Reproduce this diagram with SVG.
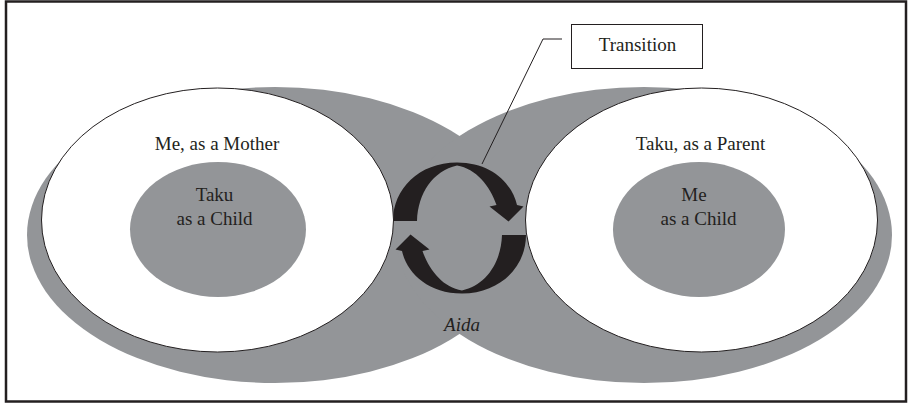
<svg xmlns="http://www.w3.org/2000/svg" width="909" height="403" viewBox="0 0 909 403">
<defs>
<style>
.lobe{fill:#939598;stroke:none}
.self{fill:#ffffff;stroke:#231f20;stroke-width:1}
.inner{fill:#939598;stroke:none}
.t{font-family:'Liberation Serif','DejaVu Serif',serif;font-size:19px;fill:#231f20;text-anchor:middle}
.it{font-style:italic}
.arrow{fill:#231f20;stroke:none}
.lead{fill:none;stroke:#231f20;stroke-width:1}
</style>
<path id="turn" d="M393,221 C393,189 419,162.5 457,162.5 C491,162.5 512,183 517,205 L523.5,206.5 L508.5,221.5 L489.5,206.5 L496.5,205 C490,186 476,168.5 457,165.5 C433,171 418,193 417,221 Z"/>
</defs>
<rect x="6" y="1.5" width="900" height="400" fill="#ffffff" stroke="#231f20" stroke-width="2.5"/>
<g id="aida">
<ellipse class="lobe" cx="275" cy="235" rx="248" ry="148"/>
<ellipse class="lobe" cx="644" cy="235" rx="248" ry="148"/>
<text class="t it" x="462" y="331" font-family="Liberation Serif, serif">Aida</text>
</g>
<g id="connectors">
<use href="#turn" class="arrow"/>
<use href="#turn" class="arrow" transform="rotate(180 459.5 228)"/>
<polyline class="lead" points="562,39 543,39 482,164"/>
</g>
<g id="mother">
<ellipse class="self" cx="217.5" cy="220" rx="176" ry="132"/>
<text class="t" x="217" y="150" font-family="Liberation Serif, serif">Me, as a Mother</text>
</g>
<g id="taku-child">
<ellipse class="inner" cx="218" cy="229.5" rx="88" ry="67.5"/>
<text class="t" x="214.5" y="201" font-family="Liberation Serif, serif">Taku</text>
<text class="t" x="214.5" y="225" font-family="Liberation Serif, serif">as a Child</text>
</g>
<g id="parent">
<ellipse class="self" cx="701.5" cy="220" rx="176" ry="132"/>
<text class="t" x="700.5" y="150" font-family="Liberation Serif, serif">Taku, as a Parent</text>
</g>
<g id="me-child">
<ellipse class="inner" cx="699" cy="229.5" rx="86" ry="67.5"/>
<text class="t" x="694" y="201" font-family="Liberation Serif, serif">Me</text>
<text class="t" x="698.5" y="225" font-family="Liberation Serif, serif">as a Child</text>
</g>
<g id="transition">
<rect x="571.5" y="24.5" width="131" height="44" fill="#ffffff" stroke="#231f20" stroke-width="1"/>
<text class="t" x="637.5" y="51" font-family="Liberation Serif, serif">Transition</text>
</g>
</svg>
